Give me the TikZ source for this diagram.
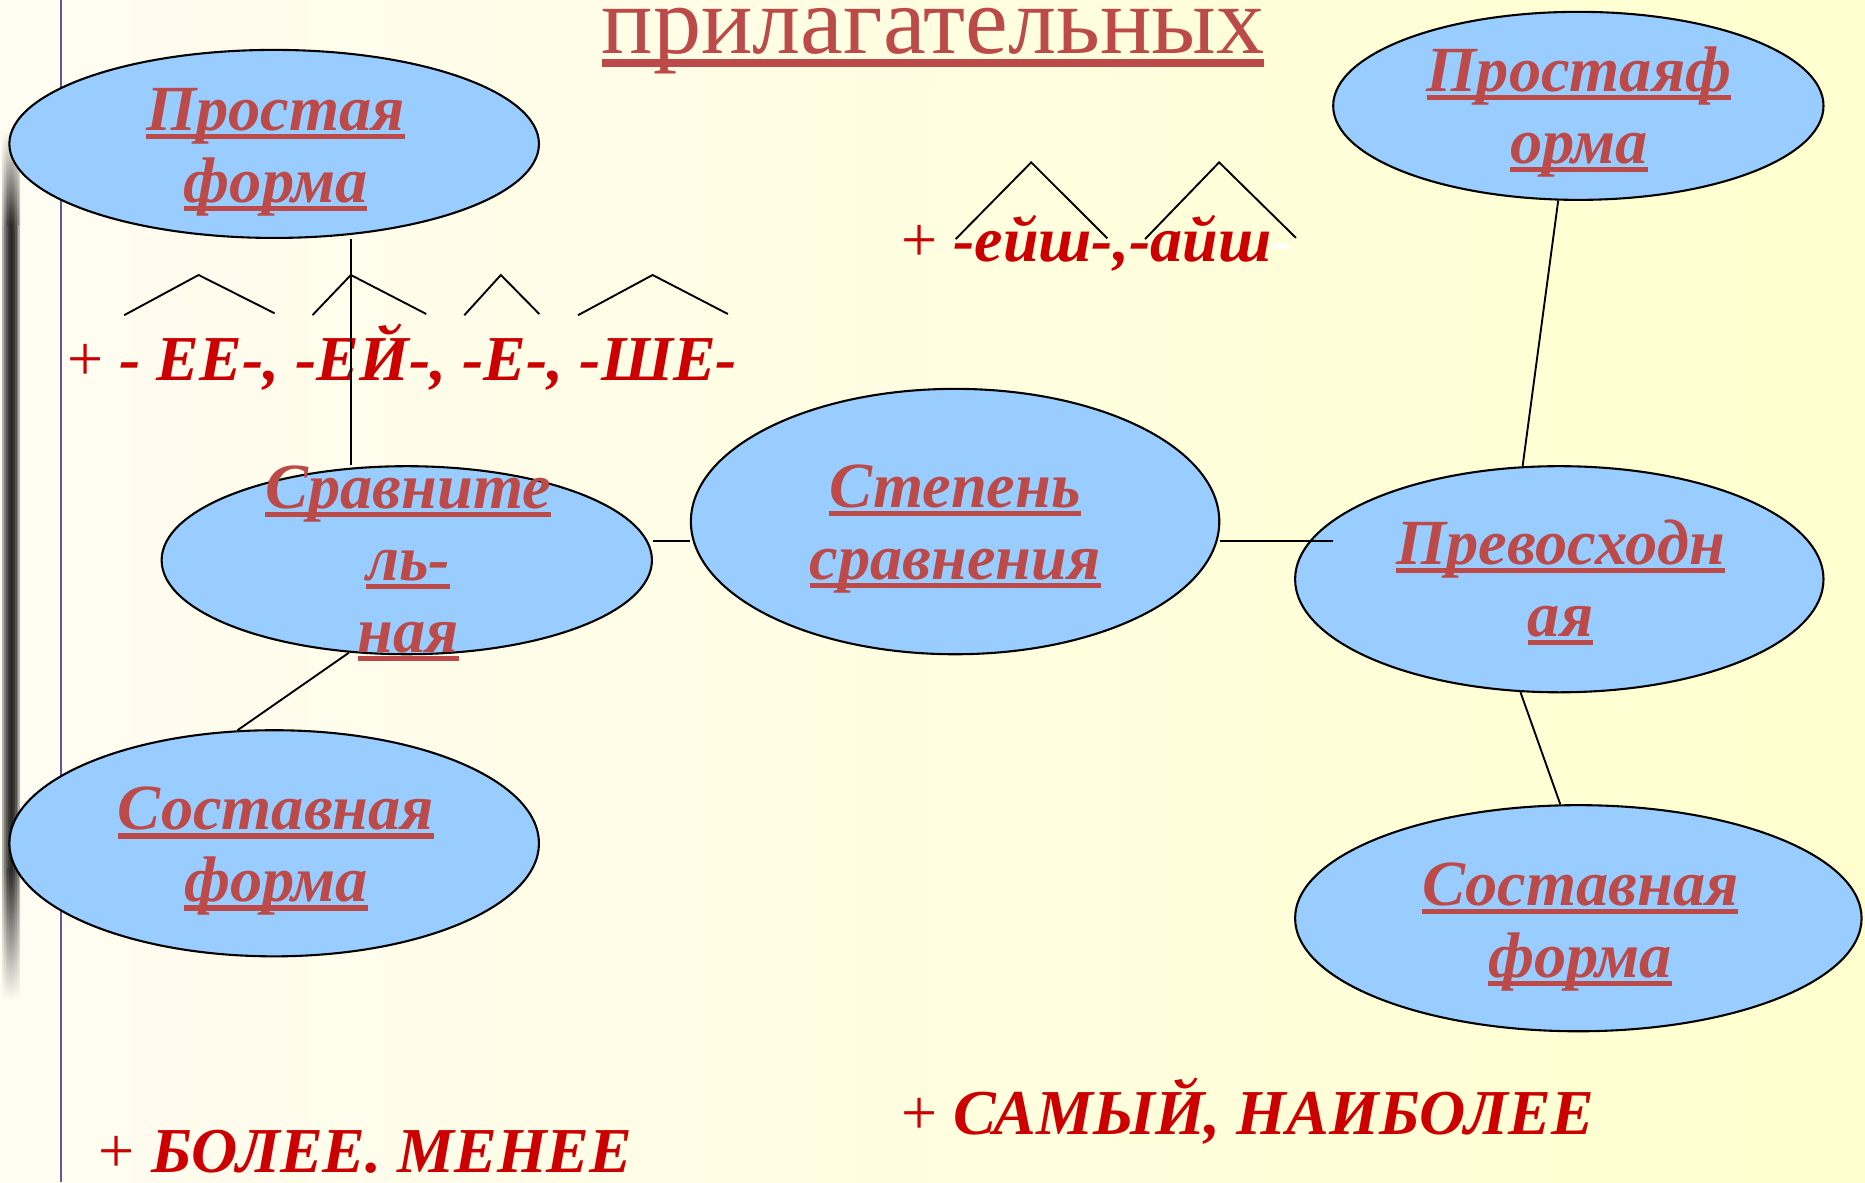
\documentclass[tikz,border=0pt]{standalone}
\usepackage{fontspec}
\setmainfont{Liberation Serif}
\usetikzlibrary{shapes.geometric}
\definecolor{bgL}{RGB}{255,252,242}
\definecolor{bgR}{RGB}{255,255,206}
\definecolor{ellfill}{RGB}{153,204,255}
\definecolor{labred}{RGB}{187,74,72}
\definecolor{sufred}{RGB}{204,0,0}
\definecolor{vline}{RGB}{90,90,150}
\newsavebox\ulbox
\newcommand\ulx[3]{\sbox\ulbox{#3}\rlap{\usebox\ulbox}\rule[-#1]{\wd\ulbox}{#2}}
\newcommand\myul[1]{\ulx{2.1pt}{1.3pt}{#1}}
\begin{document}
\begin{tikzpicture}[x=0.01cm,y=-0.01cm,
  oval/.style={ellipse, draw=black, line width=0.5pt, fill=ellfill, inner sep=0pt},
  lab/.style={text=labred, font=\fontsize{15.4}{17.2}\selectfont\bfseries\itshape, anchor=base, inner sep=0pt},
  suf/.style={text=sufred, font=\fontsize{15.3}{17}\selectfont\bfseries\itshape, anchor=base west, inner sep=0pt},
  link/.style={draw=black, line width=0.45pt},
  caret/.style={draw=black, line width=0.45pt}]
% background
\shade[left color=bgL, right color=bgR] (0,0) rectangle (1568,994);
\useasboundingbox (0,0) rectangle (1568,994);
% left shadow band (soft)
\foreach \w in {1.5,3,4.5,6,7.5}{
  \shade[top color=bgL, bottom color=black, opacity=0.3] (9.5-\w,110) rectangle (9.5+\w,190);
  \fill[black, opacity=0.3] (9.5-\w,190) rectangle (9.5+\w,730);
  \shade[top color=black, bottom color=bgL, opacity=0.3] (9.5-\w,730) rectangle (9.5+\w,840);
}
% left vertical rule
\draw[vline, line width=0.5pt] (51,0) -- (51,994);

% ellipses
\node[oval, minimum width=4.45cm, minimum height=1.58cm] (pl) at (230.5,121) {};
\node[oval, minimum width=4.12cm, minimum height=1.58cm] (pr) at (1327,89) {};
\node[oval, minimum width=4.12cm, minimum height=1.58cm] (cmp) at (342,471) {};
\node[oval, minimum width=4.44cm, minimum height=2.23cm] (deg) at (803,438.5) {};
\node[oval, minimum width=4.44cm, minimum height=1.90cm] (sup) at (1311,487) {};
\node[oval, minimum width=4.45cm, minimum height=1.90cm] (cl) at (230.5,709) {};
\node[oval, minimum width=4.76cm, minimum height=1.90cm] (cr) at (1327,772) {};

% title
\node[anchor=base, text=labred, font=\fontsize{23}{24}\selectfont, inner sep=0pt] (title) at (784.5,45) {\ulx{3.2pt}{1.8pt}{прилагательных}};

% suffix texts
\node[suf] (s1) at (56,320) {{\upshape\mdseries +} - ЕЕ-, -ЕЙ-, -Е-, -ШЕ-};
\node[suf] (s2) at (757,220) {{\upshape\mdseries +} -ейш-,-айш\textcolor{white}{-}};
\node[suf] (s3) at (82.5,986) {{\upshape\mdseries +} БОЛЕЕ. МЕНЕЕ};
\node[suf] (s4) at (757,954) {{\upshape\mdseries +} САМЫЙ, НАИБОЛЕЕ};

% carets
\draw[caret] (104.4,265) -- (167,231.2) -- (230.9,263.4);
\draw[caret] (262.7,265) -- (295,231.2) -- (358.4,264);
\draw[caret] (390.4,265) -- (421.1,231.2) -- (453.4,264);
\draw[caret] (486,265) -- (548.7,231.2) -- (612,264);
\draw[caret] (803.5,201) -- (867,136.5) -- (931,200.4);
\draw[caret] (962.7,201) -- (1025,136.5) -- (1089.6,200);

% connectors
\coordinate (vx) at (295,0);
\coordinate (hy) at (0,455);
\coordinate (supin) at (1121,455);
\draw[link] (pl.south -| vx) -- (cmp.north -| vx);
\draw[link] (cmp.238.6) -- (cl.108.5);
\draw[link] (cmp.east |- hy) -- (deg.west |- hy);
\draw[link] (deg.east |- hy) -- (supin);
\draw[link] (pr.258.6) -- (sup.108.2);
\draw[link] (sup.251.8) -- (cr.99.6);

% ellipse labels
\node[lab] (plT) at (231.7,109.9) {\begin{tabular}[t]{@{}c@{}}\myul{Простая}\\\myul{форма}\end{tabular}};
\node[lab] (prT) at (1327.6,77.1) {\begin{tabular}[t]{@{}c@{}}\myul{Простаяф}\\\myul{орма}\end{tabular}};
\node[lab] (cmpT) at (343.2,427.4) {\begin{tabular}[t]{@{}c@{}}\myul{Сравните}\\\myul{ль-}\\\myul{ная}\end{tabular}};
\node[lab] (degT) at (803,426.6) {\begin{tabular}[t]{@{}c@{}}\myul{Степень}\\\myul{сравнения}\end{tabular}};
\node[lab] (supT) at (1312,474.6) {\begin{tabular}[t]{@{}c@{}}\myul{Превосходн}\\\myul{ая}\end{tabular}};
\node[lab] (clT) at (232,697.8) {\begin{tabular}[t]{@{}c@{}}\myul{Составная}\\\myul{форма}\end{tabular}};
\node[lab] (crT) at (1328.6,761.3) {\begin{tabular}[t]{@{}c@{}}\myul{Составная}\\\myul{форма}\end{tabular}};
\end{tikzpicture}
\end{document}
